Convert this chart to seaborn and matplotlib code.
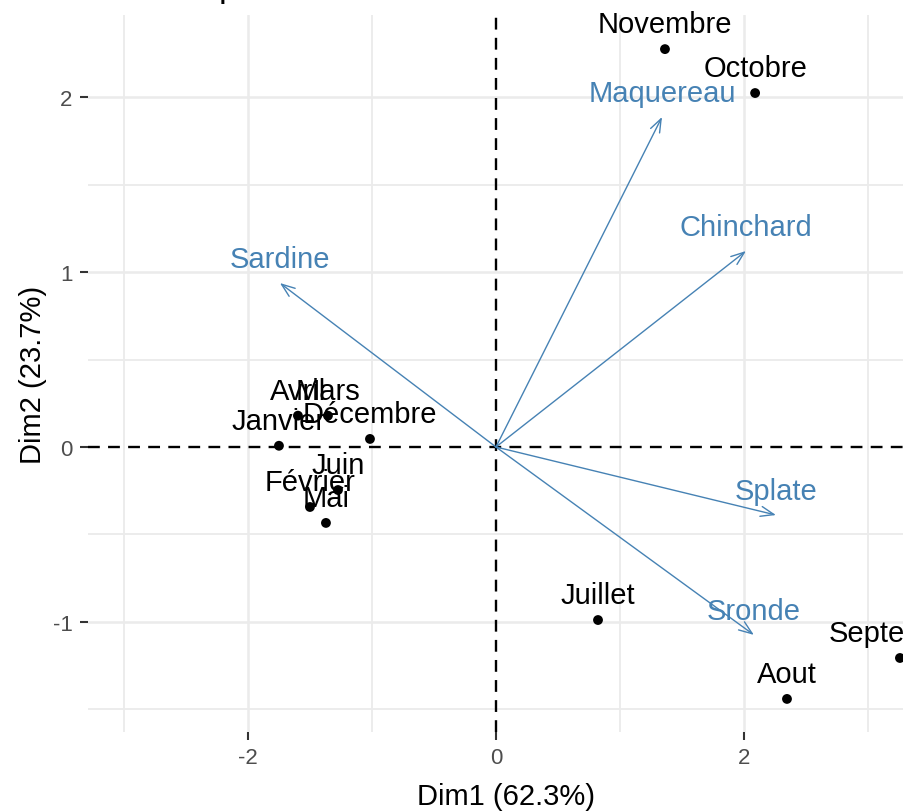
import numpy as np
import pandas as pd
import matplotlib
matplotlib.use('Agg')
import matplotlib.pyplot as plt
import seaborn as sns

# Individuals (months) coordinates on Dim1 / Dim2
months = ['Janvier', 'Février', 'Mars', 'Avril', 'Mai', 'Juin', 'Juillet',
          'Aout', 'Septembre', 'Octobre', 'Novembre', 'Décembre']
dim1 = [-1.75, -1.50, -1.355, -1.597, -1.371, -1.274, 0.823,
        2.347, 3.258, 2.09, 1.363, -1.016]
dim2 = [0.007, -0.343, 0.179, 0.179, -0.434, -0.246, -0.989,
        -1.44, -1.206, 2.023, 2.274, 0.046]

# Variables (species) arrows
species = ['Sardine', 'Maquereau', 'Chinchard', 'Splate', 'Sronde']
var_x = [-1.742, 1.339, 2.016, 2.258, 2.08]
var_y = [0.937, 1.886, 1.12, -0.389, -1.074]

ind = pd.DataFrame({'month': months, 'Dim1': dim1, 'Dim2': dim2})
var = pd.DataFrame({'species': species, 'Dim1': var_x, 'Dim2': var_y})

sns.set_theme(style='white')
plt.rcParams['font.family'] = ['Liberation Sans', 'DejaVu Sans']
plt.rcParams['axes.unicode_minus'] = False

blue = '#4682B4'
fig = plt.figure(figsize=(9.04, 8.12), dpi=100)
ax = fig.add_axes([88 / 904, 79 / 812, 836 / 904, 717 / 812])

# grid like theme_minimal
for v in [-3, -1, 1, 3]:
    ax.axvline(v, color='#EBEBEB', lw=1.3, zorder=0)
for v in [-1.5, -0.5, 0.5, 1.5]:
    ax.axhline(v, color='#EBEBEB', lw=1.3, zorder=0)
for v in [-2, 2]:
    ax.axvline(v, color='#EBEBEB', lw=1.8, zorder=0)
for v in [-1, 1, 2]:
    ax.axhline(v, color='#EBEBEB', lw=1.8, zorder=0)

ax.axhline(0, color='black', lw=1.7, ls=(0, (5, 3.5)), zorder=1)
ax.axvline(0, color='black', lw=1.7, ls=(0, (5, 3.5)), zorder=1)

# arrows for variables
for _, r in var.iterrows():
    ax.annotate('', xy=(r['Dim1'], r['Dim2']), xytext=(0, 0),
                arrowprops=dict(arrowstyle='->,head_length=0.8,head_width=0.3',
                                color=blue, lw=1.0, shrinkA=0, shrinkB=0),
                zorder=2)
    ax.annotate(r['species'], (r['Dim1'], r['Dim2']), xytext=(0, 17),
                textcoords='offset points', ha='center', va='center',
                color=blue, fontsize=21, zorder=3)

sns.scatterplot(data=ind, x='Dim1', y='Dim2', color='black', s=50,
                edgecolor='none', ax=ax, zorder=4, clip_on=False)
for _, r in ind.iterrows():
    ax.annotate(r['month'], (r['Dim1'], r['Dim2']), xytext=(0, 18),
                textcoords='offset points', ha='center', va='center',
                color='black', fontsize=21, zorder=5)

ax.set_xlim(-3.29, 3.452)
ax.set_ylim(-1.629, 2.469)
ax.set_xticks([-2, 0, 2])
ax.set_yticks([-1, 0, 1, 2])
ax.tick_params(axis='both', colors='#333333', labelcolor='#4D4D4D',
               labelsize=16, length=6, width=1.5, pad=5, left=True, bottom=True)
for s in ax.spines.values():
    s.set_visible(False)
ax.grid(False)
ax.set_xlabel('Dim1 (62.3%)', fontsize=21, color='black', labelpad=10)
ax.set_ylabel('Dim2 (23.7%)', fontsize=21, color='black', labelpad=4)

fig.text(88 / 904, 1 + 3 / 812, 'PCA - Biplot', fontsize=25, va='baseline',
         ha='left', color='black')

fig.savefig('out.png', dpi=100)
